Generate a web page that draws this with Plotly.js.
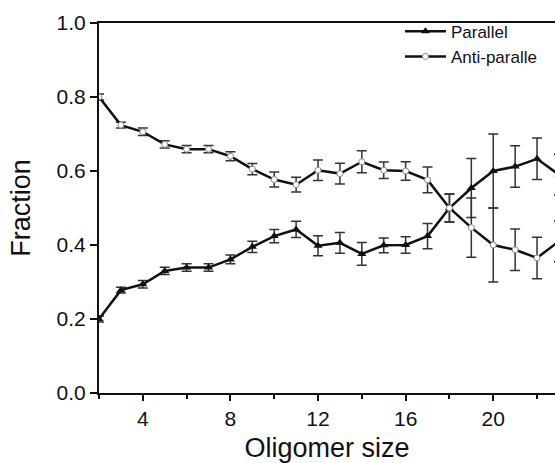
<!DOCTYPE html>
<html>
<head>
<meta charset="utf-8">
<script src="https://cdn.plot.ly/plotly-3.0.1.min.js"></script>
<style>html,body{margin:0;padding:0;background:#fff;}#chart{width:555px;height:463px;}</style>
</head>
<body>
<div id="chart"></div>
<script>
var oligomerSize = [2,3,4,5,6,7,8,9,10,11,12,13,14,15,16,17,18,19,20,21,22,23];
var parallelValues = [0.200,0.278,0.294,0.330,0.339,0.339,0.361,0.395,0.424,0.442,0.398,0.406,0.376,0.399,0.400,0.424,0.500,0.554,0.600,0.612,0.633,0.590];
var parallelErrors = [0.008,0.008,0.010,0.010,0.010,0.010,0.012,0.015,0.018,0.022,0.027,0.028,0.031,0.020,0.022,0.034,0.038,0.080,0.100,0.056,0.056,0.055];
var antiValues = [0.800,0.724,0.706,0.672,0.659,0.659,0.640,0.605,0.577,0.563,0.602,0.593,0.625,0.602,0.600,0.576,0.500,0.447,0.400,0.387,0.365,0.410];
var antiErrors = [0.008,0.008,0.010,0.010,0.010,0.010,0.012,0.015,0.020,0.020,0.028,0.028,0.030,0.022,0.025,0.035,0.038,0.080,0.100,0.056,0.056,0.055];
var seriesNames = ['Parallel','Anti-paralle'];
var xTickVals = [4,8,12,16,20];
var xMinorVals = [2,6,10,14,18,22];
var yTickVals = [0,0.2,0.4,0.6,0.8,1.0];

var font = 'Liberation Sans, Arial, sans-serif';
var traces = [
  {
    x: oligomerSize, y: parallelValues, name: seriesNames[0],
    type: 'scatter', mode: 'lines+markers',
    line: {color: '#111', width: 2.5},
    marker: {symbol: 'triangle-up', size: 8, color: '#111'},
    error_y: {type: 'data', array: parallelErrors, visible: true, color: '#333', thickness: 1.5, width: 5}
  },
  {
    x: oligomerSize, y: antiValues, name: seriesNames[1],
    type: 'scatter', mode: 'lines+markers',
    line: {color: '#111', width: 2.5},
    marker: {symbol: 'circle', size: 6, color: '#fff', line: {color: '#888', width: 1}},
    error_y: {type: 'data', array: antiErrors, visible: true, color: '#333', thickness: 1.5, width: 5}
  }
];

var layout = {
  width: 555, height: 463,
  margin: {l: 99, r: 0, t: 23, b: 70},
  paper_bgcolor: '#fff', plot_bgcolor: '#fff',
  font: {family: font, color: '#111', size: 21},
  showlegend: true,
  legend: {
    x: 0.66, xanchor: 'left', y: 1.025, yanchor: 'top',
    bgcolor: 'rgba(0,0,0,0)', borderwidth: 0,
    font: {family: font, size: 17, color: '#111'},
    itemwidth: 41, tracegroupgap: 0
  },
  xaxis: {
    range: [2, 22.82], showgrid: false, zeroline: false,
    showline: true, linecolor: '#111', linewidth: 2, mirror: true,
    ticks: 'outside', ticklen: 6, tickwidth: 2, tickcolor: '#111',
    tickmode: 'array', tickvals: xTickVals,
    minor: {tickmode: 'array', tickvals: xMinorVals, ticks: 'outside', ticklen: 4, tickwidth: 2, tickcolor: '#111'},
    tickfont: {family: font, size: 21, color: '#111'},
    title: {text: 'Oligomer size', font: {family: font, size: 27, color: '#111'}, standoff: 10}
  },
  yaxis: {
    range: [0, 1], showgrid: false, zeroline: false,
    showline: true, linecolor: '#111', linewidth: 2,
    ticks: 'outside', ticklen: 7, tickwidth: 2, tickcolor: '#111',
    tickmode: 'array', tickvals: yTickVals, tickformat: '.1f',
    tickfont: {family: font, size: 21, color: '#111'},
    title: {text: 'Fraction', font: {family: font, size: 27, color: '#111'}, standoff: 18}
  }
};

Plotly.newPlot('chart', traces, layout, {displayModeBar: false, staticPlot: true});
</script>
</body>
</html>
